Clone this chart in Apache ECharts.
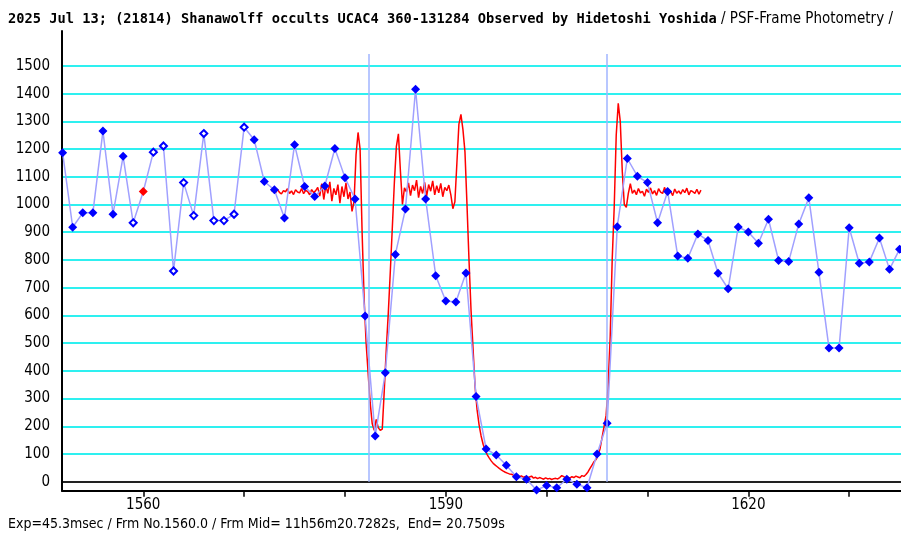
<!DOCTYPE html>
<html>
<head>
<meta charset="utf-8">
<script src="https://cdn.jsdelivr.net/npm/echarts@6/dist/echarts.min.js"></script>
<style>
html, body { margin: 0; padding: 0; background: #fff; }
#chart { width: 901px; height: 536px; }
</style>
</head>
<body>
<div id="chart"></div>
<script>
// frame photometry, one value per frame starting at firstFrame
var firstFrame = 1552;
var frameValues = [1187, 918, 970, 970, 1265, 965, 1174, 934, 1047, 1189, 1211, 760, 1079, 960, 1256, 942, 942, 965, 1279, 1234,
  1083, 1053, 951, 1216, 1065, 1029, 1067, 1202, 1097, 1020, 598, 165, 393, 820, 984, 1416, 1020, 743, 652, 648,
  753, 307, 118, 96, 59, 18, 9, -30, -14, -22, 9, -9, -22, 100, 211, 920, 1166, 1102, 1079, 934,
  1047, 814, 806, 894, 870, 752, 696, 919, 901, 860, 947, 798, 794, 930, 1024, 756, 482, 482, 916, 788,
  793, 879, 766, 839];
var openFrames = [1559, 1561, 1562, 1563, 1564, 1565, 1566, 1567, 1568, 1569, 1570];
var refFrame = 1560;

// model light curve (red), sampled every redStep frames from redStart
var redStart = 1572.7;
var redStep = 0.2;
var redValues = [
  1048, 1052, 1041, 1055, 1044, 1038, 1050, 1046, 1057, 1040, 1049, 1036, 1053, 1045, 1042, 1058, 1039, 1051, 1047, 1035, 1054, 1043, 1050,
  1062, 1030, 1075, 1018, 1068, 1040, 1082, 1012, 1058, 1035, 1072, 1005, 1065, 1028, 1078, 1020, 1045,
  975, 1010, 1180, 1260, 1200, 900, 660, 500, 390, 285, 210, 185, 225, 195, 185, 190, 330, 480, 610, 760, 920, 1080, 1210, 1255, 1120, 1000, 1060,
  1045, 1078, 1032, 1070, 1050, 1088, 1025, 1065, 1040, 1080, 1030, 1072, 1048, 1085, 1035, 1068, 1042, 1076, 1028, 1062, 1050, 1070, 1035,
  985, 1010, 1150, 1290, 1325, 1270, 1190, 1000, 800, 620, 480, 345, 260, 205, 165, 135, 114, 98, 86, 75, 66, 60, 54, 48, 43, 38, 34, 31, 28, 27, 24,
  22, 25, 18, 21, 16, 19, 14, 17, 20, 13, 16, 11, 15, 12, 9, 14, 10, 12, 8, 11, 12, 10, 15, 22, 18, 14, 16, 13, 18, 15, 20, 17, 14, 22, 19, 26,
  35, 48, 60, 72, 80, 95, 120, 160, 200, 240, 350, 520, 800, 990, 1250, 1365, 1300, 1120, 1000, 990, 1040, 1075, 1040,
  1052, 1035, 1058, 1042, 1048, 1030, 1055, 1044, 1060, 1038, 1050, 1033, 1057, 1045, 1040, 1062, 1036, 1053, 1047, 1032,
  1056, 1041, 1049, 1038, 1054, 1043, 1059, 1035, 1050, 1046, 1040, 1055, 1037, 1052
];

// disappearance / reappearance markers
var eventFrames = [1582.4, 1606.0];
var eventTop = 1543;

var yTicks = [0, 100, 200, 300, 400, 500, 600, 700, 800, 900, 1000, 1100, 1200, 1300, 1400, 1500];
var xTicks = [1560, 1570, 1580, 1590, 1600, 1610, 1620, 1630];
var xLabels = [1560, 1590, 1620];

var titleText = '2025 Jul 13; (21814) Shanawolff occults UCAC4 360-131284 Observed by Hidetoshi Yoshida';
var titleSub = ' / PSF-Frame Photometry /';
var footText = 'Exp=45.3msec / Frm No.1560.0 / Frm Mid= 11h56m20.7282s,  End= 20.7509s';

var labelFont = '"Liberation Sans Narrow", "DejaVu Sans Condensed", sans-serif';

var chart = echarts.init(document.getElementById('chart'));

var blueData = frameValues.map(function (v, i) {
  var f = firstFrame + i;
  var item = { value: [f, v] };
  if (f === refFrame) {
    item.itemStyle = { color: '#ff0000' };
  } else if (openFrames.indexOf(f) >= 0) {
    item.symbolSize = 7;
    item.itemStyle = { color: '#ffffff', borderColor: '#0000ff', borderWidth: 2 };
  }
  return item;
});

var redData = redValues.map(function (v, i) {
  return [redStart + i * redStep, v];
});

var eventLines = eventFrames.map(function (f) {
  return [{ coord: [f, 0] }, { coord: [f, eventTop] }];
});

function plain(v) { return String(v); }

var option = {
  animation: false,
  backgroundColor: '#ffffff',
  title: [{
    left: 3,
    top: 7,
    text: '{b|' + titleText + '}{n|' + titleSub + '}',
    textStyle: {
      rich: {
        b: { fontFamily: '"DejaVu Sans Mono", monospace', fontWeight: 'bold', fontSize: 13.7, color: '#000' },
        n: { fontFamily: labelFont, fontWeight: 'normal', fontSize: 15, color: '#000' }
      }
    }
  }, {
    left: 3,
    top: 512,
    text: footText,
    textStyle: { fontFamily: labelFont, fontWeight: 'normal', fontSize: 14, color: '#000' }
  }],
  grid: { left: 62, right: 0, top: 31, bottom: 45.3, containLabel: false },
  xAxis: {
    type: 'value',
    min: 1551.94,
    max: 1635.14,
    axisLine: { onZero: false, lineStyle: { color: '#000', width: 2 } },
    axisTick: { show: true, customValues: xTicks, length: 6, lineStyle: { color: '#000', width: 1.5 } },
    axisLabel: { customValues: xLabels, formatter: plain, margin: 7, color: '#000', fontFamily: labelFont, fontSize: 15 },
    splitLine: { show: false }
  },
  yAxis: {
    type: 'value',
    min: -32.5,
    max: 1626,
    axisLine: { show: true, lineStyle: { color: '#000', width: 2 } },
    axisTick: { show: false, customValues: yTicks },
    axisLabel: { customValues: yTicks, formatter: plain, margin: 12, color: '#000', fontFamily: labelFont, fontSize: 15 },
    splitLine: {
      show: true,
      lineStyle: {
        width: 2,
        color: yTicks.map(function (v) { return v === 0 ? '#222222' : '#2ef0f0'; })
      }
    }
  },
  series: [{
    type: 'line',
    data: redData,
    showSymbol: false,
    lineStyle: { color: '#ff0000', width: 1.5 },
    z: 2
  }, {
    type: 'line',
    data: blueData,
    symbol: 'diamond',
    symbolSize: 9,
    itemStyle: { color: '#0000ff' },
    lineStyle: { color: '#a0a0ff', width: 1.5 },
    z: 3,
    markLine: {
      silent: true,
      symbol: 'none',
      label: { show: false },
      lineStyle: { color: '#a0b4ff', width: 1.5, type: 'solid' },
      data: eventLines
    }
  }]
};

chart.setOption(option);
</script>
</body>
</html>
